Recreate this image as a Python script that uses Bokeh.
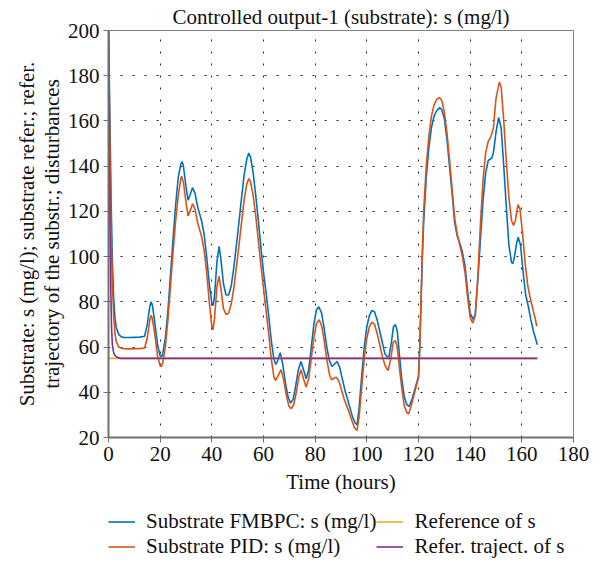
from bokeh.plotting import figure
from bokeh.layouts import column
from bokeh.models import Legend, LegendItem, FixedTicker, Range1d
from bokeh.embed import file_html
from bokeh.resources import INLINE

# ---- data ----
t_fmbpc = [0, 0.5, 1, 1.5, 2, 2.5, 3, 4, 5, 6, 8, 10, 12, 14, 15, 16, 16.5, 17, 18, 19, 20, 20.5, 21, 22, 23,
           24, 25, 26, 27, 28, 28.5, 29, 30, 30.8, 31.5, 32.5, 33.5, 34.5, 36, 37, 38, 39, 40, 40.5, 41, 42,
           42.8, 43.5, 44.5, 45.5, 46.5, 47.5, 48.5, 50, 51.5, 52.5, 53.5, 54.3, 55, 56, 57, 58, 59, 60, 61,
           62, 63, 64, 64.7, 65.5, 66.5, 67.5, 68.5, 69.5, 70.5, 71.5, 72.5, 73.5, 74.5, 75.5, 76.5, 77.5, 78.5,
           79.5, 80.5, 81.4, 82.5, 83.5, 84.5, 85.5, 86.5, 87.5, 88.5, 89.5, 90.5, 91.5, 92.5, 93.5, 94.5, 95.5,
           96.2, 97, 98, 99, 100, 101, 102, 103, 104, 105, 106, 107, 108.4, 109.5, 110.3, 111, 111.8, 112.5,
           113.5, 114.5, 115.5, 116.4, 117.5, 118.5, 119.5, 120, 120.5, 121, 121.5, 122, 123, 124, 125, 126,
           127, 128.2, 129, 130, 131, 132, 133, 134, 135, 136, 137, 138, 139, 140, 141.3, 142, 143, 144, 145,
           146, 147, 148.4, 149, 150, 151, 152, 153, 154, 155, 156, 156.5, 157, 158, 158.6, 159.5, 160.5,
           161.5, 162.6, 163.5, 164.5, 165.5, 166]
s_fmbpc = [200, 165, 125, 98, 82, 73, 68.5, 65.5, 64.5, 64.2, 64.2, 64.3, 64.4, 64.8, 70, 78, 80, 78.5, 70, 61,
           56, 55.8, 57, 64, 76, 92, 108, 123, 135, 141, 142, 140, 131, 125, 127, 130.5, 128, 122, 116, 110,
           100, 88, 79.5, 78.3, 82, 98, 104.5, 99, 88, 83, 83, 87, 95, 110, 126, 136, 143, 145.8, 144, 137,
           127, 116, 104, 93, 84, 74, 63, 55, 52.3, 54, 57.5, 52, 44, 38, 35.2, 37, 43, 50, 53.6, 50, 46, 50,
           60, 70, 76.5, 77.8, 75, 68, 60, 54, 51.4, 52.5, 53.6, 51, 46, 41, 37, 33, 29, 26.3, 25.6, 33, 47,
           60, 69, 74, 76.2, 75.5, 72, 67, 62, 57, 54.8, 62, 69, 70, 67, 58, 46, 38, 34.5, 33.7, 37, 41, 45,
           47, 60, 80, 100, 115, 135, 148, 157, 162, 164.5, 165.9, 165, 161, 152, 140, 128, 115, 109, 106,
           102, 96, 85, 75, 72, 75, 90, 108, 125, 137, 142.5, 143.6, 146, 155, 161.5, 157, 140, 122, 105,
           97.5, 96.9, 99, 106, 108.6, 105, 93, 83, 77.5, 72, 67, 63, 61]

t_pid = [0, 0.5, 1, 1.5, 2, 2.5, 3, 4, 5, 6, 8, 10, 12, 14, 15, 16, 16.5, 17, 18, 19, 20, 20.5, 21, 22, 23, 24,
         25, 26, 27, 28, 28.3, 29, 30, 30.8, 31.5, 32.6, 33.5, 34.5, 36, 37, 38, 39, 40, 40.4, 41, 42, 42.8,
         43.5, 44.5, 45.5, 46.5, 47.5, 48.5, 50, 51.5, 52.5, 53.5, 54.3, 55, 56, 57, 58, 59, 60, 61, 62, 63,
         64, 64.6, 65.5, 66.8, 67.8, 68.8, 69.8, 70.7, 71.7, 72.7, 73.7, 74.5, 75.5, 76.5, 77.5, 78.5, 79.5,
         80.5, 81.6, 82.6, 83.6, 84.6, 85.5, 86.3, 87.3, 88.2, 89.2, 90.2, 91.2, 92.2, 93.2, 94.2, 95.2, 96.2,
         97, 98, 99, 100, 101, 102, 103, 104, 105, 106, 107, 108.2, 109.3, 110.2, 111, 111.8, 112.5, 113.5,
         114.5, 115.5, 116.2, 117.2, 118.2, 119.2, 120, 120.5, 121, 121.5, 122, 123, 124, 125, 126, 127,
         128.2, 129, 130, 131, 132, 133, 134, 135, 136, 137, 138, 139, 140, 141, 142, 143, 144, 145, 146, 147,
         148, 149, 150, 151.3, 152, 153, 154, 155, 156, 156.8, 157.5, 158.5, 159.3, 160.3, 161.3, 162.3, 163.2,
         164.2, 165.2, 165.8]
s_pid = [200, 155, 112, 88, 74, 66, 62.5, 60, 59.5, 59.3, 59.2, 59.3, 59.3, 59.6, 64, 72, 74, 72.5, 65, 56, 51.7,
         51.4, 53, 60, 72, 87, 102, 116, 127, 134.5, 135.6, 133, 124, 118, 120, 123.4, 121, 115, 109, 103, 93,
         80, 69, 67.6, 72, 87, 91.4, 86, 77, 74.4, 75, 79, 86, 100, 115, 125, 132, 134.5, 133, 127, 118, 107,
         96, 86, 76, 66, 55, 47, 45.2, 47, 50, 45.5, 39, 34, 32.7, 34.5, 40, 47, 50, 46, 42.3, 46, 55, 64,
         70.5, 72.1, 69, 62, 54, 48, 45.5, 46.2, 46.7, 45, 41, 37, 34, 31, 27.5, 24.3, 23.1, 29, 42, 55, 64,
         69, 71, 70, 66, 61, 56, 52, 49.6, 55, 62, 62.9, 60, 52, 42, 34, 31, 30.5, 34, 38.5, 43, 46.5, 60, 82,
         103, 120, 140, 153, 162, 167, 169.5, 170.3, 169, 164, 155, 143, 130, 117, 110, 105, 100, 93, 82, 73,
         70.6, 74, 92, 115, 134, 146, 151, 153, 157, 170, 177.2, 175, 160, 142, 126, 116, 113.8, 116, 123,
         121, 110, 97, 87, 82, 77, 72.5, 69.2]

t_ref = [0, 166]
s_ref = [55, 55]

t_traj = [0, 0.3, 0.6, 0.9, 1.2, 1.5, 2, 2.5, 3, 4, 5, 166]
s_traj = [200, 150, 110, 85, 68, 61, 57.5, 56.3, 55.7, 55.2, 55, 55]

x_ticks = [0, 20, 40, 60, 80, 100, 120, 140, 160, 180]
y_ticks = [20, 40, 60, 80, 100, 120, 140, 160, 180, 200]

series_labels = ["Substrate FMBPC: s (mg/l)", "Substrate PID: s (mg/l)", "Reference of s", "Refer. traject. of s"]
series_colors = ["#0072BD", "#D95319", "#EDB120", "#7E2F8E"]
series_t = [t_fmbpc, t_pid, t_ref, t_traj]
series_s = [s_fmbpc, s_pid, s_ref, s_traj]

FONT = "Liberation Serif"
FS = "21px"

p = figure(width=601, height=500, output_backend="svg", toolbar_location=None,
           x_range=Range1d(0, 180), y_range=Range1d(20, 200),
           min_border_left=108, min_border_right=28, min_border_top=30, min_border_bottom=63,
           title="Controlled output-1 (substrate): s (mg/l)")
p.background_fill_color = "white"
p.border_fill_color = "white"
p.outline_line_color = "#808080"
p.outline_line_width = 1

p.title.align = "center"
p.title.vertical_align = "top"
p.title.text_font = FONT
p.title.text_font_size = FS
p.title.text_font_style = "normal"
p.title.text_color = "#111111"
p.title.standoff = 0
p.title.offset = 0

for ax in (p.xaxis[0], p.yaxis[0]):
    ax.major_label_text_font = FONT
    ax.major_label_text_font_size = FS
    ax.major_label_text_color = "#111111"
    ax.axis_label_text_font = FONT
    ax.axis_label_text_font_size = FS
    ax.axis_label_text_font_style = "normal"
    ax.axis_label_text_color = "#111111"
    ax.axis_line_color = "#707070"
    ax.axis_line_width = 2
    ax.major_tick_line_color = "#707070"
    ax.major_tick_out = 5
    ax.major_tick_in = 0
    ax.minor_tick_line_color = None
    ax.major_label_standoff = 4
p.xaxis.axis_label_standoff = 6
p.yaxis.axis_label_standoff = 1
p.yaxis.axis_label_text_line_height = 1.05

p.xaxis.ticker = FixedTicker(ticks=x_ticks)
p.yaxis.ticker = FixedTicker(ticks=y_ticks)
p.xaxis.axis_label = "Time (hours)"
p.yaxis.axis_label = "Substrate: s (mg/l); substrate refer.; refer.\ntrajectory of the substr.; disturbances"

p.xgrid.ticker = FixedTicker(ticks=x_ticks)
p.ygrid.ticker = FixedTicker(ticks=y_ticks)
for g in (p.xgrid[0], p.ygrid[0]):
    g.grid_line_color = "#222222"
    g.grid_line_dash = "2 10"
    g.grid_line_width = 1

for ts, ss, col in zip(series_t, series_s, series_colors):
    p.line(ts, ss, line_color=col, line_width=1.6)

# legend strip below the chart (a figure with no axes; its frame is aligned with the chart's frame)
pl = figure(width=601, height=61, output_backend="svg", toolbar_location=None,
            x_range=Range1d(0, 180), y_range=Range1d(1000, 1001),
            x_axis_location=None, y_axis_location=None,
            min_border_left=0, min_border_right=0, min_border_top=0, min_border_bottom=0)
pl.grid.visible = False
pl.outline_line_color = None
pl.background_fill_color = "white"
pl.border_fill_color = "white"

items = []
for lab, ts, ss, col in zip(series_labels, series_t, series_s, series_colors):
    r = pl.line(ts, ss, line_color=col, line_width=1.6)
    items.append(LegendItem(label=lab, renderers=[r]))

legend = Legend(items=items, orientation="vertical", ncols=2, location=(0, 2))
legend.label_text_font = FONT
legend.label_text_font_size = FS
legend.label_text_color = "#111111"
legend.border_line_color = None
legend.background_fill_alpha = 0
legend.glyph_width = 27
legend.label_standoff = 11
legend.spacing = 0
legend.padding = 0
legend.margin = 0
legend.label_height = 21
legend.glyph_height = 21
pl.add_layout(legend)

layout = column(p, pl, spacing=0)
open("out.html", "w").write(file_html(layout, INLINE))
